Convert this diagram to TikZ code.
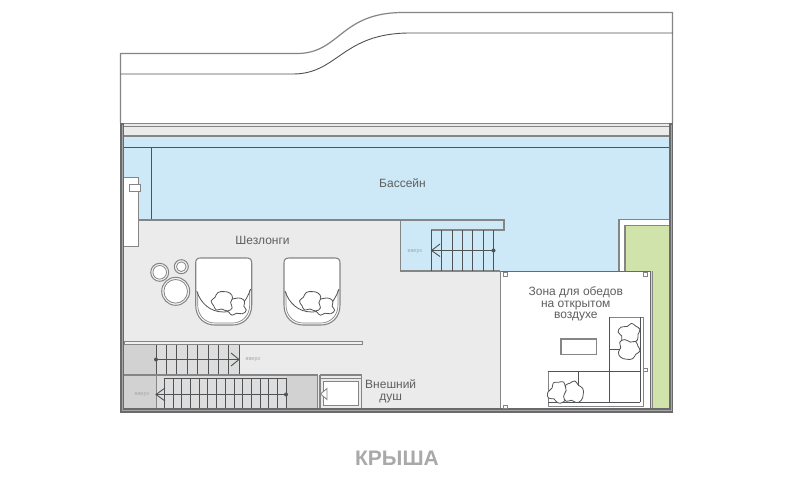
\documentclass[tikz,border=0pt]{standalone}
\usepackage{fontspec}
\setmainfont{Liberation Sans}
\definecolor{wallc}{HTML}{858585}
\definecolor{walld}{HTML}{6A6A6C}
\definecolor{linec}{HTML}{505355}
\definecolor{floorc}{HTML}{EBEBEB}
\definecolor{stairc}{HTML}{DDDDDD}
\definecolor{stairdark}{HTML}{D2D2D2}
\definecolor{poolc}{HTML}{CDE8F7}
\definecolor{greenc}{HTML}{CFE3AB}
\definecolor{textc}{HTML}{5F5F5F}
\definecolor{upc}{HTML}{A8A8A8}
\definecolor{titlec}{HTML}{A9A9A9}
\tikzset{
  wall/.style={draw=wallc,line width=1.2pt},
  thin line/.style={draw=linec,line width=.8pt},
  tread/.style={draw=linec,line width=.9pt},
  lbl/.style={text=textc,font=\fontsize{12}{11.7}\selectfont,align=center,inner sep=0pt},
  uplbl/.style={text=upc,font=\fontsize{5.5}{6}\selectfont,inner sep=0pt},
  post/.style={draw=wallc,line width=.9pt,fill=white,minimum size=3.5pt,inner sep=0pt},
  pillowblob/.pic={
    \draw[draw=linec,line width=.8pt,fill=white] plot[smooth cycle,tension=.8] coordinates
      {(-11,1) (-7.5,-3) (-5,-8) (1,-9.5) (7,-8.5) (10,-4) (8.5,1) (10.5,6) (6,9.5) (0,8) (-5,9.5) (-8,5.5)};
  },
  lounger/.pic={
    \draw[draw=wallc,line width=1.1pt,fill=white]
      (0,5) .. controls (0,1.5) and (1.5,0) .. (5,0) -- (51,0)
      .. controls (54.5,0) and (56,1.5) .. (56,5) -- (56,47)
      .. controls (56,60) and (47,67) .. (37,67) -- (19,67)
      .. controls (9,67) and (0,60) .. (0,47) -- cycle;
    \draw[draw=wallc,line width=.7pt] (2,34) -- (2,47) .. controls (2,58) and (10,65) .. (19,65)
      -- (37,65) .. controls (46,65) and (54,58) .. (54,47) -- (54,32);
    \draw[thin line] (1,33) .. controls (5,45) and (14,54) .. (28,54)
      .. controls (42,54) and (50,45) .. (55,31);
    \pic[rotate=8,xscale=.95,yscale=.85] at (40,48.5) {pillowblob};
    \pic[rotate=-5] at (26.5,43) {pillowblob};
  }
}
\begin{document}
\begin{tikzpicture}[x=1pt,y=-1pt]
\useasboundingbox (0,0) rectangle (792,480);
\fill[white] (0,0) rectangle (792,480);
% roof outline
\draw[wall] (120.5,123) -- (120.5,53.5) -- (297,53.5)
  .. controls (340,53.5) and (340,12.5) .. (403,12.5) -- (672.5,12.5) -- (672.5,123);
\draw[draw=linec,line width=.9pt] (120.5,74) -- (293,74)
  .. controls (338,74) and (342,33) .. (410,33) -- (672.5,33);
% base fills
\fill[floorc] (124,123) rectangle (669,136);
\fill[poolc] (124,136) rectangle (669,220);
\fill[floorc] (124,220) rectangle (500,409);
\fill[poolc] (400,220) rectangle (669,271);
\fill[white] (619,219.5) rectangle (669,271);
\fill[greenc] (625,225) rectangle (669,271);
\fill[greenc] (650,271) rectangle (669,409);
\fill[white] (500,271) rectangle (650,409);
% band lines
\draw[wall] (120,123.5) -- (672,123.5);
\draw[wall] (124,126.8) -- (669,126.8);
\draw[draw=wallc,line width=1.4pt] (124,136) -- (669,136);
\draw[thin line] (124,147.3) -- (669,147.3);
\draw[thin line] (151.5,147.3) -- (151.5,220);
% pool edge
\draw[wall] (124,220) -- (504,220) -- (504,230) -- (431,230);
\draw[wall] (400.5,220) -- (400.5,271) -- (500,271);
\draw[wall] (619,271) -- (619,219.8) -- (669,219.8);
\draw[wall] (625,271) -- (625,225.3) -- (669,225.3);
% left niche
\draw[draw=wallc,line width=1pt,fill=white] (124,177) -- (138,177) -- (138,246) -- (124,246);
\draw[draw=wallc,line width=1pt,fill=white] (129,184) rectangle (140,191);
% pool stairs
\foreach \x in {431.5,441.8,452.1,462.4,472.7,483,493.5}
  \draw[tread] (\x,230) -- (\x,271);
\coordinate (a1s) at (493.5,250.5);
\coordinate (a1e) at (431.5,250.5);
\draw[tread] (a1s) -- (a1e);
\draw[tread] (440,244) -- (a1e) -- (440,256.5);
\fill[linec] (a1s) circle (2pt);
\node[uplbl] (up1) at (415,251.5) {вверх};
% lower-left stairs
\fill[stairdark] (124,344.5) rectangle (156,375);
\fill[stairc] (156,344.5) rectangle (239,375);
\fill[stairdark] (124,375) rectangle (156,408);
\fill[stairc] (156,375) rectangle (286,408);
\fill[stairdark] (286,375) rectangle (317,408);
\draw[draw=wallc,line width=.9pt,fill=floorc!70!white] (124,341.5) rectangle (362,344.8);
\foreach \x in {156,166.4,176.8,187.2,197.6,208,218.4,228.8,239}
  \draw[tread] (\x,344.8) -- (\x,375);
\coordinate (a2s) at (156,359.5);
\coordinate (a2e) at (239,359.5);
\draw[tread] (a2s) -- (a2e);
\draw[tread] (231,353) -- (a2e) -- (231,366);
\fill[linec] (a2s) circle (2pt);
\node[uplbl] (up2) at (253,360) {вверх};
\draw[draw=wallc,line width=1.3pt] (124,375) -- (318,375);
\draw[draw=wallc,line width=.5pt] (156,375) -- (156,408);
\draw[thin line] (164.3,378) -- (286,378);
\foreach \x in {164.4,173.1,181.8,190.5,199.2,207.9,216.6,225.3,234,242.7,251.4,260.1,268.8,277.5,286}
  \draw[tread] (\x,378) -- (\x,408);
\coordinate (a3s) at (286,394.5);
\coordinate (a3e) at (156,394.5);
\draw[tread] (a3s) -- (a3e);
\draw[tread] (165,388) -- (a3e) -- (165,401);
\fill[linec] (a3s) circle (2pt);
\node[uplbl] (up3) at (142,395) {вверх};
% shower
\draw[wall] (317.5,375) -- (317.5,408);
\draw[wall] (320,375) -- (361.7,375) -- (361.7,408);
\draw[wall] (320,375) -- (320,408);
\draw[wall] (320,378.3) -- (361.7,378.3);
\draw[draw=wallc,line width=1pt,fill=white] (323,381.5) rectangle (358,405.5);
\draw[draw=wallc,line width=.9pt,fill=white] (327,388.5) -- (320.5,394) -- (327,399.5) -- cycle;
% outer walls
\draw[draw=wallc,line width=1pt] (500.5,271) -- (500.5,409);
\draw[draw=walld,line width=1pt] (500.5,271) -- (650,271) -- (650,409);
\draw[draw=wallc,line width=1pt] (652,271) -- (652,409);
\fill[walld] (120,123) rectangle (124.3,412.5);
\fill[walld] (668.8,123) rectangle (672.8,412.5);
\fill[walld] (120,408.3) rectangle (672.8,412.5);
\draw[draw=walld!60!white,line width=.7pt] (122,125) -- (122,410.5) -- (671,410.5) -- (671,125);
% posts
\node[post] (p1) at (505.3,274.3) {};
\node[post] (p2) at (645.3,274.3) {};
\node[post] (p3) at (505.3,406.8) {};
\node[post] (p4) at (645.3,370) {};
% circles
\foreach \cx/\cy/\r in {159.7/272.3/9,181.3/266.7/7,175.7/291.3/14}{
  \draw[draw=wallc,line width=1pt,fill=floorc!60!white] (\cx,\cy) circle (\r pt);
  \draw[draw=wallc,line width=.8pt,fill=white] (\cx,\cy) circle ({\r-2.2});
}
% loungers
\pic at (195.7,258) {lounger};
\pic at (284,258) {lounger};
% dining
\draw[draw=wallc,line width=1.1pt,fill=white] (561,339) rectangle (596.7,354.3);
\draw[draw=wallc,line width=.9pt] (609,317.3) -- (643.3,317.3) -- (643.3,406.7) -- (548.3,406.7) -- (548.3,371.7);
\draw[thin line] (548.3,371.7) -- (640,371.7);
\draw[thin line] (609,317.3) -- (609,402) ;
\draw[thin line] (548.3,402) -- (640,402);
\draw[thin line] (640,317.3) -- (640,402);
\draw[thin line] (578.7,371.7) -- (578.7,402);
\draw[thin line] (609,349.3) -- (625,349.3);
\pic[rotate=200] at (630,334) {pillowblob};
\pic[rotate=170] at (629,350) {pillowblob};
\pic[rotate=-120] at (559,392) {pillowblob};
\pic[rotate=-100] at (574,392) {pillowblob};
% labels
\node[lbl] (pool) at (402.5,183) {Бассейн};
\node[lbl] (lounge) at (262.5,240.5) {Шезлонги};
\node[lbl] (shower) at (390.7,391) {Внешний\\душ};
\node[lbl] (dine) at (575.8,304) {Зона для обедов\\на открытом\\воздухе};
\node[text=titlec,font=\fontsize{21}{24}\bfseries\selectfont,inner sep=0pt] (title) at (397,458) {КРЫША};
\end{tikzpicture}
\end{document}
